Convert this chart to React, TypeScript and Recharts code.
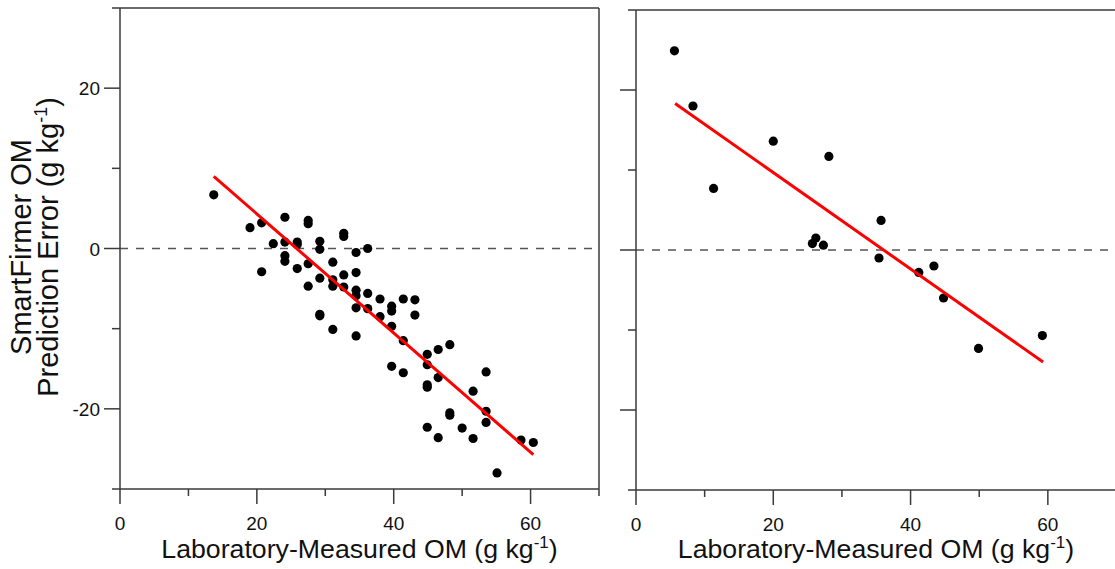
import { ScatterChart, Scatter, XAxis, YAxis, ReferenceLine } from "recharts";

const xTicks = [0, 10, 20, 30, 40, 50, 60, 70];
const xLabelled = [0, 20, 40, 60];
const yTicks = [-30, -20, -10, 0, 10, 20, 30];
const yLabelled = [-20, 0, 20];

// left panel: calibration set
const leftMeasured = [
  13.7, 19.0, 20.7, 20.7, 22.4, 24.1, 24.1, 24.1, 24.1, 25.9, 25.9, 25.9, 27.5, 27.5, 27.5, 27.5,
  29.2, 29.2, 29.2, 29.2, 29.2, 31.1, 31.1, 31.1, 31.1, 32.7, 32.7, 32.7, 32.7, 34.5, 34.5, 34.5,
  34.5, 34.5, 34.5, 36.2, 36.2, 36.2, 38.0, 38.0, 39.7, 39.7, 39.7, 39.7, 41.4, 41.4, 41.4, 43.1,
  43.1, 44.9, 44.9, 44.9, 44.9, 44.9, 46.5, 46.5, 46.5, 48.2, 48.2, 48.2, 50.0, 51.6, 51.6, 53.5,
  53.5, 53.5, 55.1, 58.6, 60.4,
];
const leftError = [
  6.7, 2.6, 3.2, -2.9, 0.6, 3.9, 0.8, -0.9, -1.6, 0.8, 0.5, -2.5, 3.5, 3.1, -1.9, -4.7,
  0.9, -0.1, -3.7, -8.2, -8.4, -1.7, -3.9, -4.7, -10.1, 1.9, 1.5, -3.3, -4.8, -0.5, -3.0, -5.2,
  -5.9, -7.4, -10.9, 0.0, -5.6, -7.5, -6.3, -8.5, -7.2, -7.8, -9.7, -14.7, -6.3, -11.5, -15.5, -6.4,
  -8.3, -13.2, -14.5, -17.0, -17.3, -22.3, -12.6, -16.1, -23.6, -12.0, -20.5, -20.8, -22.4, -17.8, -23.7, -15.4,
  -20.3, -21.7, -28.0, -23.9, -24.2,
];
const leftFitX = [13.7, 60.4];
const leftFitY = [9.0, -25.7];

// right panel: validation set
const rightMeasured = [5.6, 8.3, 11.3, 20.0, 28.1, 25.7, 26.2, 27.3, 35.7, 35.4, 41.2, 43.4, 44.8, 49.9, 59.2];
const rightError = [24.9, 18.0, 7.7, 13.6, 11.7, 0.8, 1.5, 0.6, 3.7, -1.0, -2.8, -2.0, -6.0, -12.3, -10.7];
const rightFitX = [5.7, 59.3];
const rightFitY = [18.3, -14.0];

const FONT = "'Liberation Sans', Arial, sans-serif";
const AXIS = "#3a3a3a";

const toPoints = (xs: number[], ys: number[]) => xs.map((x, i) => ({ x, y: ys[i] }));

const XTick = (props: any) => {
  const { x, y, payload } = props;
  const major = xLabelled.includes(payload.value);
  return (
    <g>
      <line x1={x} x2={x} y1={y} y2={y + (major ? 15 : 7)} stroke={AXIS} strokeWidth={1.5} />
      {major && (
        <text x={x} y={y + 41} textAnchor="middle" fontSize={19} fontFamily={FONT} fill="#111">
          {payload.value}
        </text>
      )}
    </g>
  );
};

const makeYTick = (showLabels: boolean) => (props: any) => {
  const { x, y, payload } = props;
  const major = yLabelled.includes(payload.value);
  return (
    <g>
      <line x1={x - (major ? 16 : 8)} x2={x} y1={y} y2={y} stroke={AXIS} strokeWidth={1.5} />
      {major && showLabels && (
        <text x={x - 20} y={y + 7} textAnchor="end" fontSize={19} fontFamily={FONT} fill="#111">
          {payload.value}
        </text>
      )}
    </g>
  );
};

const XTitle = ({ cx }: { cx: number }) => (
  <text x={cx} y={558} textAnchor="middle" fontSize={26.7} fontFamily={FONT} fill="#111">
    Laboratory-Measured OM (g kg
    <tspan dy={-10} fontSize={17}>-1</tspan>
    <tspan dy={10}>)</tspan>
  </text>
);

const YTitle = () => (
  <g transform="translate(0 247) rotate(-90)">
    <text x={0} y={31} textAnchor="middle" fontSize={29} fontFamily={FONT} fill="#111">
      SmartFirmer OM
    </text>
    <text x={0} y={58} textAnchor="middle" fontSize={29} fontFamily={FONT} fill="#111">
      Prediction Error (g kg
      <tspan dy={-11} fontSize={18}>-1</tspan>
      <tspan dy={11}>)</tspan>
    </text>
  </g>
);

const dot = (p: any) => <circle cx={p.cx} cy={p.cy} r={4.6} fill="#000" />;

function Panel({
  width,
  margin,
  yWidth,
  xHeight,
  points,
  fit,
  showYLabels,
  titleCx,
}: {
  width: number;
  margin: { top: number; right: number; bottom: number; left: number };
  yWidth: number;
  xHeight: number;
  points: { x: number; y: number }[];
  fit: { x: number; y: number }[];
  showYLabels: boolean;
  titleCx: number;
}) {
  return (
    <ScatterChart width={width} height={569} margin={margin}>
      <XAxis
        type="number"
        dataKey="x"
        domain={[0, 70]}
        ticks={xTicks}
        interval={0}
        allowDataOverflow
        height={xHeight}
        stroke={AXIS}
        strokeWidth={1.5}
        tickSize={0}
        tickMargin={0}
        tickLine={false}
        tick={<XTick />}
        label={<XTitle cx={titleCx} />}
      />
      <YAxis
        type="number"
        dataKey="y"
        domain={[-30, 30]}
        ticks={yTicks}
        interval={0}
        allowDataOverflow
        width={yWidth}
        stroke={AXIS}
        strokeWidth={1.5}
        tickSize={0}
        tickMargin={0}
        tickLine={false}
        tick={makeYTick(showYLabels)}
        label={showYLabels ? <YTitle /> : undefined}
      />
      <ReferenceLine y={30} stroke={AXIS} strokeWidth={1.5} />
      <ReferenceLine x={70} stroke={AXIS} strokeWidth={1.5} />
      <ReferenceLine y={0} stroke="#555" strokeWidth={1.3} strokeDasharray="8 8" />
      <Scatter data={points} shape={dot} isAnimationActive={false} />
      <Scatter
        data={fit}
        line={{ stroke: "#ff0000", strokeWidth: 3 }}
        shape={() => <g />}
        isAnimationActive={false}
      />
    </ScatterChart>
  );
}

export default function App() {
  return (
    <div
      style={{
        position: "absolute",
        left: 0,
        top: 0,
        width: 1115,
        height: 569,
        overflow: "hidden",
        background: "#fff",
        fontFamily: FONT,
      }}
    >
      <div style={{ position: "absolute", left: 0, top: 0 }}>
        <Panel
          width={610}
          margin={{ top: 8, right: 11, bottom: 0, left: 0 }}
          yWidth={120}
          xHeight={80}
          points={toPoints(leftMeasured, leftError)}
          fit={toPoints(leftFitX, leftFitY)}
          showYLabels
          titleCx={359.5}
        />
      </div>
      <div style={{ position: "absolute", left: 600, top: 0 }}>
        <Panel
          width={530}
          margin={{ top: 10, right: 13.5, bottom: 0, left: 0 }}
          yWidth={36}
          xHeight={79}
          points={toPoints(rightMeasured, rightError)}
          fit={toPoints(rightFitX, rightFitY)}
          showYLabels={false}
          titleCx={276}
        />
      </div>
    </div>
  );
}
